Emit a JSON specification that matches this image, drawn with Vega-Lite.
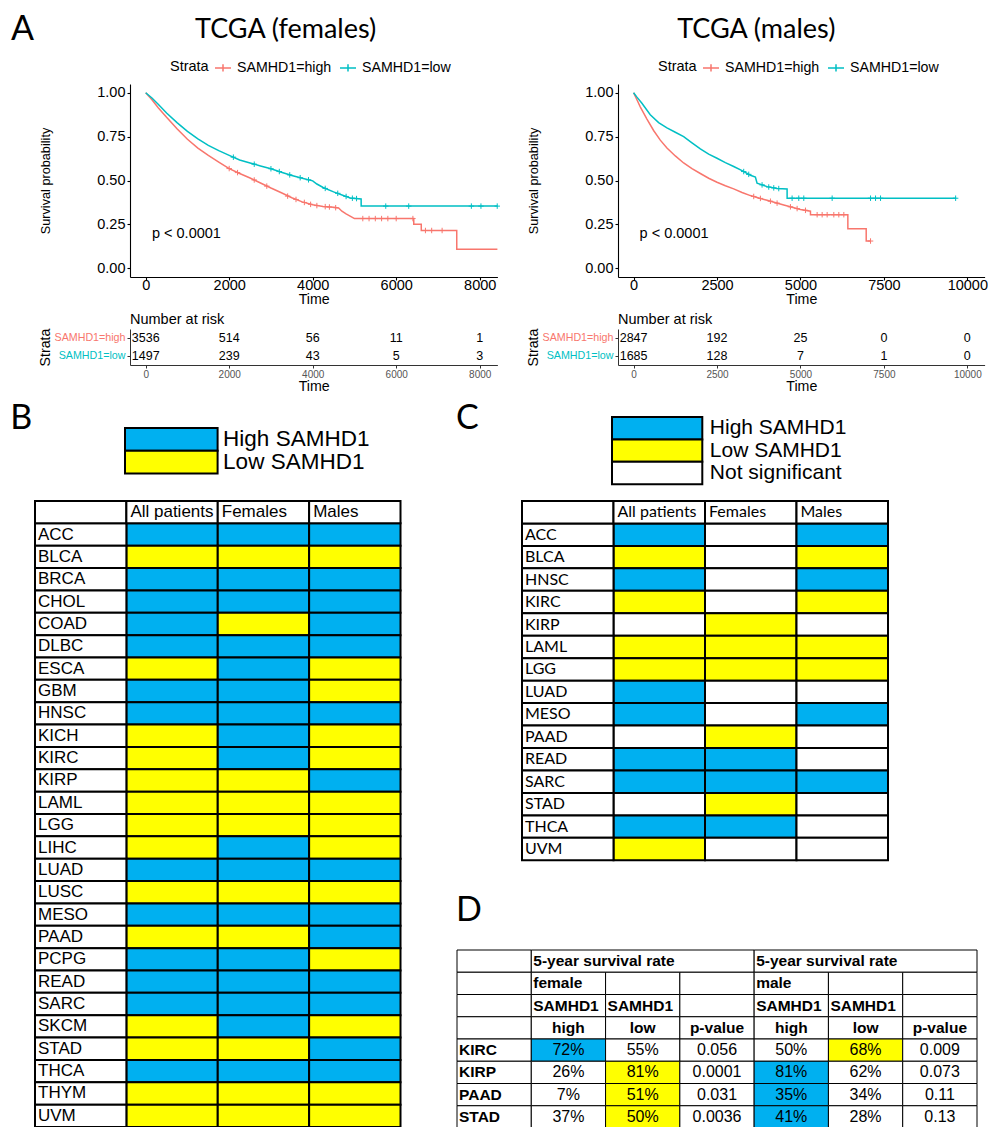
{
"$schema":"https://vega.github.io/schema/vega-lite/v6.json",
"padding":0,
"background":"white",
"bounds":"full",
"spacing":0,
"resolve":{"scale":{"color":"independent","fill":"independent"},"legend":{"color":"independent","fill":"independent"}},
"config":{
 "view":{"stroke":null},
 "font":"Liberation Sans",
 "axis":{"grid":false,"domainColor":"black","tickColor":"black","labelColor":"black","titleColor":"black","labelFont":"Liberation Sans","titleFont":"Liberation Sans","titleFontWeight":"normal"},
 "title":{"color":"black","fontWeight":"normal"}
},
"datasets":{
 "empty":[],
 "kmF":[
  {"strata":"SAMHD1=high","time":0,"surv":1},{"strata":"SAMHD1=high","time":150,"surv":0.96},{"strata":"SAMHD1=high","time":300,"surv":0.915},{"strata":"SAMHD1=high","time":500,"surv":0.86},{"strata":"SAMHD1=high","time":750,"surv":0.795},{"strata":"SAMHD1=high","time":1000,"surv":0.735},{"strata":"SAMHD1=high","time":1250,"surv":0.685},{"strata":"SAMHD1=high","time":1500,"surv":0.643},{"strata":"SAMHD1=high","time":1750,"surv":0.605},{"strata":"SAMHD1=high","time":2000,"surv":0.568},{"strata":"SAMHD1=high","time":2250,"surv":0.54},{"strata":"SAMHD1=high","time":2500,"surv":0.514},{"strata":"SAMHD1=high","time":2750,"surv":0.486},{"strata":"SAMHD1=high","time":3000,"surv":0.457},{"strata":"SAMHD1=high","time":3250,"surv":0.43},{"strata":"SAMHD1=high","time":3500,"surv":0.402},{"strata":"SAMHD1=high","time":3750,"surv":0.378},{"strata":"SAMHD1=high","time":4000,"surv":0.362},{"strata":"SAMHD1=high","time":4250,"surv":0.352},{"strata":"SAMHD1=high","time":4500,"surv":0.347},{"strata":"SAMHD1=high","time":4620,"surv":0.343},{"strata":"SAMHD1=high","time":4700,"surv":0.325},{"strata":"SAMHD1=high","time":4800,"surv":0.31},{"strata":"SAMHD1=high","time":4950,"surv":0.29},{"strata":"SAMHD1=high","time":5000,"surv":0.283},{"strata":"SAMHD1=high","time":6420,"surv":0.283},{"strata":"SAMHD1=high","time":6421,"surv":0.25},{"strata":"SAMHD1=high","time":6600,"surv":0.25},{"strata":"SAMHD1=high","time":6601,"surv":0.215},{"strata":"SAMHD1=high","time":7450,"surv":0.215},{"strata":"SAMHD1=high","time":7451,"surv":0.108},{"strata":"SAMHD1=high","time":8424,"surv":0.108},
  {"strata":"SAMHD1=low","time":0,"surv":1},{"strata":"SAMHD1=low","time":150,"surv":0.97},{"strata":"SAMHD1=low","time":300,"surv":0.935},{"strata":"SAMHD1=low","time":500,"surv":0.885},{"strata":"SAMHD1=low","time":750,"surv":0.83},{"strata":"SAMHD1=low","time":1000,"surv":0.78},{"strata":"SAMHD1=low","time":1250,"surv":0.737},{"strata":"SAMHD1=low","time":1500,"surv":0.7},{"strata":"SAMHD1=low","time":1750,"surv":0.67},{"strata":"SAMHD1=low","time":2000,"surv":0.643},{"strata":"SAMHD1=low","time":2250,"surv":0.617},{"strata":"SAMHD1=low","time":2500,"surv":0.6},{"strata":"SAMHD1=low","time":2750,"surv":0.583},{"strata":"SAMHD1=low","time":3000,"surv":0.567},{"strata":"SAMHD1=low","time":3250,"surv":0.547},{"strata":"SAMHD1=low","time":3500,"surv":0.528},{"strata":"SAMHD1=low","time":3750,"surv":0.513},{"strata":"SAMHD1=low","time":4000,"surv":0.498},{"strata":"SAMHD1=low","time":4100,"surv":0.48},{"strata":"SAMHD1=low","time":4250,"surv":0.46},{"strata":"SAMHD1=low","time":4500,"surv":0.435},{"strata":"SAMHD1=low","time":4750,"surv":0.413},{"strata":"SAMHD1=low","time":4900,"surv":0.4},{"strata":"SAMHD1=low","time":5160,"surv":0.395},{"strata":"SAMHD1=low","time":5161,"surv":0.354},{"strata":"SAMHD1=low","time":8424,"surv":0.354}
 ],
 "censF":[
  {"strata":"SAMHD1=high","time":2000,"surv":0.568},{"strata":"SAMHD1=high","time":2200,"surv":0.545},{"strata":"SAMHD1=high","time":2600,"surv":0.503},{"strata":"SAMHD1=high","time":2900,"surv":0.468},{"strata":"SAMHD1=high","time":3400,"surv":0.411},{"strata":"SAMHD1=high","time":3600,"surv":0.392},{"strata":"SAMHD1=high","time":3800,"surv":0.375},{"strata":"SAMHD1=high","time":3950,"surv":0.364},{"strata":"SAMHD1=high","time":4100,"surv":0.357},{"strata":"SAMHD1=high","time":4300,"surv":0.351},{"strata":"SAMHD1=high","time":4400,"surv":0.349},{"strata":"SAMHD1=high","time":4550,"surv":0.345},{"strata":"SAMHD1=high","time":5200,"surv":0.283},{"strata":"SAMHD1=high","time":5350,"surv":0.283},{"strata":"SAMHD1=high","time":5500,"surv":0.283},{"strata":"SAMHD1=high","time":5650,"surv":0.283},{"strata":"SAMHD1=high","time":5800,"surv":0.283},{"strata":"SAMHD1=high","time":6000,"surv":0.283},{"strata":"SAMHD1=high","time":6400,"surv":0.283},{"strata":"SAMHD1=high","time":6700,"surv":0.215},{"strata":"SAMHD1=high","time":6850,"surv":0.215},{"strata":"SAMHD1=high","time":7100,"surv":0.215},
  {"strata":"SAMHD1=low","time":2100,"surv":0.633},{"strata":"SAMHD1=low","time":2600,"surv":0.593},{"strata":"SAMHD1=low","time":3000,"surv":0.567},{"strata":"SAMHD1=low","time":3200,"surv":0.551},{"strata":"SAMHD1=low","time":3450,"surv":0.532},{"strata":"SAMHD1=low","time":3700,"surv":0.516},{"strata":"SAMHD1=low","time":3900,"surv":0.504},{"strata":"SAMHD1=low","time":4300,"surv":0.455},{"strata":"SAMHD1=low","time":4600,"surv":0.427},{"strata":"SAMHD1=low","time":4800,"surv":0.409},{"strata":"SAMHD1=low","time":4950,"surv":0.399},{"strata":"SAMHD1=low","time":5050,"surv":0.397},{"strata":"SAMHD1=low","time":5750,"surv":0.354},{"strata":"SAMHD1=low","time":6300,"surv":0.354},{"strata":"SAMHD1=low","time":7800,"surv":0.354},{"strata":"SAMHD1=low","time":8030,"surv":0.354},{"strata":"SAMHD1=low","time":8420,"surv":0.354}
 ],
 "kmM":[
  {"strata":"SAMHD1=high","time":0,"surv":1},{"strata":"SAMHD1=high","time":100,"surv":0.96},{"strata":"SAMHD1=high","time":200,"surv":0.92},{"strata":"SAMHD1=high","time":400,"surv":0.85},{"strata":"SAMHD1=high","time":600,"surv":0.785},{"strata":"SAMHD1=high","time":800,"surv":0.73},{"strata":"SAMHD1=high","time":1000,"surv":0.685},{"strata":"SAMHD1=high","time":1250,"surv":0.64},{"strata":"SAMHD1=high","time":1500,"surv":0.6},{"strata":"SAMHD1=high","time":1750,"surv":0.568},{"strata":"SAMHD1=high","time":2000,"surv":0.54},{"strata":"SAMHD1=high","time":2250,"surv":0.513},{"strata":"SAMHD1=high","time":2500,"surv":0.49},{"strata":"SAMHD1=high","time":2750,"surv":0.47},{"strata":"SAMHD1=high","time":3000,"surv":0.452},{"strata":"SAMHD1=high","time":3250,"surv":0.432},{"strata":"SAMHD1=high","time":3500,"surv":0.414},{"strata":"SAMHD1=high","time":3750,"surv":0.4},{"strata":"SAMHD1=high","time":4000,"surv":0.387},{"strata":"SAMHD1=high","time":4500,"surv":0.36},{"strata":"SAMHD1=high","time":5000,"surv":0.335},{"strata":"SAMHD1=high","time":5300,"surv":0.325},{"strata":"SAMHD1=high","time":5301,"surv":0.305},{"strata":"SAMHD1=high","time":6420,"surv":0.305},{"strata":"SAMHD1=high","time":6421,"surv":0.225},{"strata":"SAMHD1=high","time":6970,"surv":0.225},{"strata":"SAMHD1=high","time":6971,"surv":0.155},{"strata":"SAMHD1=high","time":7100,"surv":0.155},
  {"strata":"SAMHD1=low","time":0,"surv":1},{"strata":"SAMHD1=low","time":100,"surv":0.975},{"strata":"SAMHD1=low","time":250,"surv":0.94},{"strata":"SAMHD1=low","time":500,"surv":0.875},{"strata":"SAMHD1=low","time":750,"surv":0.83},{"strata":"SAMHD1=low","time":1000,"surv":0.8},{"strata":"SAMHD1=low","time":1250,"surv":0.775},{"strata":"SAMHD1=low","time":1500,"surv":0.75},{"strata":"SAMHD1=low","time":1750,"surv":0.715},{"strata":"SAMHD1=low","time":2000,"surv":0.68},{"strata":"SAMHD1=low","time":2250,"surv":0.65},{"strata":"SAMHD1=low","time":2500,"surv":0.627},{"strata":"SAMHD1=low","time":2750,"surv":0.602},{"strata":"SAMHD1=low","time":3000,"surv":0.58},{"strata":"SAMHD1=low","time":3250,"surv":0.556},{"strata":"SAMHD1=low","time":3500,"surv":0.53},{"strata":"SAMHD1=low","time":3650,"surv":0.52},{"strata":"SAMHD1=low","time":3700,"surv":0.485},{"strata":"SAMHD1=low","time":4000,"surv":0.465},{"strata":"SAMHD1=low","time":4300,"surv":0.455},{"strata":"SAMHD1=low","time":4600,"surv":0.452},{"strata":"SAMHD1=low","time":4601,"surv":0.399},{"strata":"SAMHD1=low","time":9668,"surv":0.399}
 ],
 "censM":[
  {"strata":"SAMHD1=high","time":3600,"surv":0.409},{"strata":"SAMHD1=high","time":3800,"surv":0.398},{"strata":"SAMHD1=high","time":4100,"surv":0.382},{"strata":"SAMHD1=high","time":4300,"surv":0.371},{"strata":"SAMHD1=high","time":4700,"surv":0.35},{"strata":"SAMHD1=high","time":4900,"surv":0.34},{"strata":"SAMHD1=high","time":5150,"surv":0.33},{"strata":"SAMHD1=high","time":5500,"surv":0.305},{"strata":"SAMHD1=high","time":5650,"surv":0.305},{"strata":"SAMHD1=high","time":5800,"surv":0.305},{"strata":"SAMHD1=high","time":6000,"surv":0.305},{"strata":"SAMHD1=high","time":6150,"surv":0.305},{"strata":"SAMHD1=high","time":6300,"surv":0.305},{"strata":"SAMHD1=high","time":7100,"surv":0.155},
  {"strata":"SAMHD1=low","time":3300,"surv":0.551},{"strata":"SAMHD1=low","time":3450,"surv":0.535},{"strata":"SAMHD1=low","time":3850,"surv":0.475},{"strata":"SAMHD1=low","time":4050,"surv":0.463},{"strata":"SAMHD1=low","time":4200,"surv":0.458},{"strata":"SAMHD1=low","time":4350,"surv":0.454},{"strata":"SAMHD1=low","time":4750,"surv":0.399},{"strata":"SAMHD1=low","time":4950,"surv":0.399},{"strata":"SAMHD1=low","time":5100,"surv":0.399},{"strata":"SAMHD1=low","time":5950,"surv":0.399},{"strata":"SAMHD1=low","time":7100,"surv":0.399},{"strata":"SAMHD1=low","time":7250,"surv":0.399},{"strata":"SAMHD1=low","time":7400,"surv":0.399},{"strata":"SAMHD1=low","time":9650,"surv":0.399}
 ],
 "riskF":[
  {"strata":"SAMHD1=high","time":0,"n":3536},{"strata":"SAMHD1=high","time":2000,"n":514},{"strata":"SAMHD1=high","time":4000,"n":56},{"strata":"SAMHD1=high","time":6000,"n":11},{"strata":"SAMHD1=high","time":8000,"n":1},
  {"strata":"SAMHD1=low","time":0,"n":1497},{"strata":"SAMHD1=low","time":2000,"n":239},{"strata":"SAMHD1=low","time":4000,"n":43},{"strata":"SAMHD1=low","time":6000,"n":5},{"strata":"SAMHD1=low","time":8000,"n":3}
 ],
 "riskM":[
  {"strata":"SAMHD1=high","time":0,"n":2847},{"strata":"SAMHD1=high","time":2500,"n":192},{"strata":"SAMHD1=high","time":5000,"n":25},{"strata":"SAMHD1=high","time":7500,"n":0},{"strata":"SAMHD1=high","time":10000,"n":0},
  {"strata":"SAMHD1=low","time":0,"n":1685},{"strata":"SAMHD1=low","time":2500,"n":128},{"strata":"SAMHD1=low","time":5000,"n":7},{"strata":"SAMHD1=low","time":7500,"n":1},{"strata":"SAMHD1=low","time":10000,"n":0}
 ],
 "tabB":[
  {"cancer":"ACC","All patients":"High","Females":"High","Males":"High"},
  {"cancer":"BLCA","All patients":"Low","Females":"Low","Males":"Low"},
  {"cancer":"BRCA","All patients":"High","Females":"High","Males":"High"},
  {"cancer":"CHOL","All patients":"High","Females":"High","Males":"High"},
  {"cancer":"COAD","All patients":"High","Females":"Low","Males":"High"},
  {"cancer":"DLBC","All patients":"High","Females":"High","Males":"High"},
  {"cancer":"ESCA","All patients":"Low","Females":"High","Males":"Low"},
  {"cancer":"GBM","All patients":"High","Females":"High","Males":"Low"},
  {"cancer":"HNSC","All patients":"High","Females":"High","Males":"High"},
  {"cancer":"KICH","All patients":"Low","Females":"High","Males":"Low"},
  {"cancer":"KIRC","All patients":"Low","Females":"High","Males":"Low"},
  {"cancer":"KIRP","All patients":"Low","Females":"Low","Males":"High"},
  {"cancer":"LAML","All patients":"Low","Females":"Low","Males":"Low"},
  {"cancer":"LGG","All patients":"Low","Females":"Low","Males":"Low"},
  {"cancer":"LIHC","All patients":"Low","Females":"High","Males":"Low"},
  {"cancer":"LUAD","All patients":"High","Females":"High","Males":"High"},
  {"cancer":"LUSC","All patients":"Low","Females":"Low","Males":"Low"},
  {"cancer":"MESO","All patients":"High","Females":"High","Males":"High"},
  {"cancer":"PAAD","All patients":"Low","Females":"Low","Males":"High"},
  {"cancer":"PCPG","All patients":"High","Females":"High","Males":"Low"},
  {"cancer":"READ","All patients":"High","Females":"High","Males":"High"},
  {"cancer":"SARC","All patients":"High","Females":"High","Males":"High"},
  {"cancer":"SKCM","All patients":"Low","Females":"High","Males":"Low"},
  {"cancer":"STAD","All patients":"Low","Females":"Low","Males":"High"},
  {"cancer":"THCA","All patients":"High","Females":"High","Males":"High"},
  {"cancer":"THYM","All patients":"Low","Females":"Low","Males":"Low"},
  {"cancer":"UVM","All patients":"Low","Females":"Low","Males":"Low"}
 ],
 "tabC":[
  {"cancer":"ACC","All patients":"High","Females":"NS","Males":"High"},
  {"cancer":"BLCA","All patients":"Low","Females":"NS","Males":"Low"},
  {"cancer":"HNSC","All patients":"High","Females":"NS","Males":"High"},
  {"cancer":"KIRC","All patients":"Low","Females":"NS","Males":"Low"},
  {"cancer":"KIRP","All patients":"NS","Females":"Low","Males":"NS"},
  {"cancer":"LAML","All patients":"Low","Females":"Low","Males":"Low"},
  {"cancer":"LGG","All patients":"Low","Females":"Low","Males":"Low"},
  {"cancer":"LUAD","All patients":"High","Females":"NS","Males":"NS"},
  {"cancer":"MESO","All patients":"High","Females":"NS","Males":"High"},
  {"cancer":"PAAD","All patients":"NS","Females":"Low","Males":"NS"},
  {"cancer":"READ","All patients":"High","Females":"High","Males":"NS"},
  {"cancer":"SARC","All patients":"High","Females":"High","Males":"High"},
  {"cancer":"STAD","All patients":"NS","Females":"Low","Males":"NS"},
  {"cancer":"THCA","All patients":"High","Females":"High","Males":"NS"},
  {"cancer":"UVM","All patients":"Low","Females":"NS","Males":"NS"}
 ],
 "headers":[{"col":"Cancer"},{"col":"All patients"},{"col":"Females"},{"col":"Males"}],
 "tabD":[
  {"r":"h1","c":"c0","c2":"c0","t":"","sig":"None"},{"r":"h1","c":"c1","c2":"c3","t":"5-year survival rate","sig":"None"},{"r":"h1","c":"c4","c2":"c6","t":"5-year survival rate","sig":"None"},
  {"r":"h2","c":"c0","c2":"c0","t":"","sig":"None"},{"r":"h2","c":"c1","c2":"c1","t":"female","sig":"None"},{"r":"h2","c":"c2","c2":"c2","t":"","sig":"None"},{"r":"h2","c":"c3","c2":"c3","t":"","sig":"None"},{"r":"h2","c":"c4","c2":"c4","t":"male","sig":"None"},{"r":"h2","c":"c5","c2":"c5","t":"","sig":"None"},{"r":"h2","c":"c6","c2":"c6","t":"","sig":"None"},
  {"r":"h3","c":"c0","c2":"c0","t":"","sig":"None"},{"r":"h3","c":"c1","c2":"c1","t":"SAMHD1","sig":"None"},{"r":"h3","c":"c2","c2":"c2","t":"SAMHD1","sig":"None"},{"r":"h3","c":"c3","c2":"c3","t":"","sig":"None"},{"r":"h3","c":"c4","c2":"c4","t":"SAMHD1","sig":"None"},{"r":"h3","c":"c5","c2":"c5","t":"SAMHD1","sig":"None"},{"r":"h3","c":"c6","c2":"c6","t":"","sig":"None"},
  {"r":"h4","c":"c0","c2":"c0","t":"","sig":"None"},{"r":"h4","c":"c1","c2":"c1","t":"high","sig":"None"},{"r":"h4","c":"c2","c2":"c2","t":"low","sig":"None"},{"r":"h4","c":"c3","c2":"c3","t":"p-value","sig":"None"},{"r":"h4","c":"c4","c2":"c4","t":"high","sig":"None"},{"r":"h4","c":"c5","c2":"c5","t":"low","sig":"None"},{"r":"h4","c":"c6","c2":"c6","t":"p-value","sig":"None"},
  {"r":"KIRC","c":"c0","c2":"c0","t":"KIRC","sig":"None"},{"r":"KIRC","c":"c1","c2":"c1","t":"72%","sig":"High"},{"r":"KIRC","c":"c2","c2":"c2","t":"55%","sig":"None"},{"r":"KIRC","c":"c3","c2":"c3","t":"0.056","sig":"None"},{"r":"KIRC","c":"c4","c2":"c4","t":"50%","sig":"None"},{"r":"KIRC","c":"c5","c2":"c5","t":"68%","sig":"Low"},{"r":"KIRC","c":"c6","c2":"c6","t":"0.009","sig":"None"},
  {"r":"KIRP","c":"c0","c2":"c0","t":"KIRP","sig":"None"},{"r":"KIRP","c":"c1","c2":"c1","t":"26%","sig":"None"},{"r":"KIRP","c":"c2","c2":"c2","t":"81%","sig":"Low"},{"r":"KIRP","c":"c3","c2":"c3","t":"0.0001","sig":"None"},{"r":"KIRP","c":"c4","c2":"c4","t":"81%","sig":"High"},{"r":"KIRP","c":"c5","c2":"c5","t":"62%","sig":"None"},{"r":"KIRP","c":"c6","c2":"c6","t":"0.073","sig":"None"},
  {"r":"PAAD","c":"c0","c2":"c0","t":"PAAD","sig":"None"},{"r":"PAAD","c":"c1","c2":"c1","t":"7%","sig":"None"},{"r":"PAAD","c":"c2","c2":"c2","t":"51%","sig":"Low"},{"r":"PAAD","c":"c3","c2":"c3","t":"0.031","sig":"None"},{"r":"PAAD","c":"c4","c2":"c4","t":"35%","sig":"High"},{"r":"PAAD","c":"c5","c2":"c5","t":"34%","sig":"None"},{"r":"PAAD","c":"c6","c2":"c6","t":"0.11","sig":"None"},
  {"r":"STAD","c":"c0","c2":"c0","t":"STAD","sig":"None"},{"r":"STAD","c":"c1","c2":"c1","t":"37%","sig":"None"},{"r":"STAD","c":"c2","c2":"c2","t":"50%","sig":"Low"},{"r":"STAD","c":"c3","c2":"c3","t":"0.0036","sig":"None"},{"r":"STAD","c":"c4","c2":"c4","t":"41%","sig":"High"},{"r":"STAD","c":"c5","c2":"c5","t":"28%","sig":"None"},{"r":"STAD","c":"c6","c2":"c6","t":"0.13","sig":"None"}
 ]
},
"vconcat":[
 {"columns":4,"spacing":0,"bounds":"flush",
  "resolve":{"scale":{"color":"independent","fill":"independent"},"legend":{"color":"independent","fill":"independent"}},
  "concat":[
   {"width":129.3,"height":83.5,"data":{"values":[{"p":"A"}]},"mark":{"type":"text","font":"Lato","fontSize":34,"dx":-42.15,"dy":-11.75,"baseline":"middle","align":"center","color":"black"},"encoding":{"text":{"field":"p"}}},
   {"width":367.4,"height":1,"data":{"name":"empty"},"mark":"point"},
   {"width":120,"height":1,"data":{"name":"empty"},"mark":"point"},
   {"width":366.6,"height":1,"data":{"name":"empty"},"mark":"point"},

   {"width":1,"height":1,"data":{"name":"empty"},"mark":"point"},
   {"width":367.4,"height":193,
    "title":{"text":"TCGA (females)","font":"Lato","fontSize":27,"fontWeight":"normal","anchor":"middle","frame":"group","dx":-28,"offset":15,"color":"black"},
    "layer":[
     {"data":{"name":"kmF"},"mark":{"type":"line","strokeWidth":1.5},
      "encoding":{
       "x":{"field":"time","type":"quantitative","scale":{"domain":[-376,8424],"nice":false,"zero":false},"axis":{"title":"Time","values":[0,2000,4000,6000,8000],"format":"d","labelFontSize":14.5,"titleFontSize":14.2,"tickSize":3,"labelPadding":-2,"titlePadding":1,"domainWidth":1.1,"tickWidth":1.1}},
       "y":{"field":"surv","type":"quantitative","scale":{"domain":[-0.05,1.05],"nice":false,"zero":false},"axis":{"title":"Survival probability","values":[0,0.25,0.5,0.75,1],"format":".2f","labelFontSize":14.5,"titleFontSize":12.7,"tickSize":3,"labelPadding":2,"titlePadding":44,"domainWidth":1.1,"tickWidth":1.1}},
       "color":{"field":"strata","type":"nominal","scale":{"domain":["SAMHD1=high","SAMHD1=low"],"range":["#F8766D","#00BFC4"]},"legend":{"title":"Strata","orient":"none","legendX":40,"legendY":-25.5,"direction":"horizontal","titleOrient":"left","titleFontSize":14.5,"titleFontWeight":"normal","titleColor":"black","titlePadding":5,"labelFontSize":14.2,"labelColor":"black","labelOffset":5,"columnPadding":5,"symbolType":"M-1,0H1M0,-0.45V0.45","symbolSize":256,"symbolStrokeWidth":1.5,"symbolFillColor":"transparent"}}
      }},
     {"data":{"name":"censF"},"mark":{"type":"point","shape":"M-1,0H1M0,-1V1","size":30,"strokeWidth":1,"filled":false,"opacity":1},
      "encoding":{"x":{"field":"time","type":"quantitative"},"y":{"field":"surv","type":"quantitative"},"color":{"field":"strata","type":"nominal"}}},
     {"data":{"values":[{"label":"p < 0.0001"}]},"mark":{"type":"text","align":"left","baseline":"middle","fontSize":14.5,"color":"black"},
      "encoding":{"x":{"datum":150,"type":"quantitative"},"y":{"datum":0.196,"type":"quantitative"},"text":{"field":"label"}}}
    ]},
   {"width":1,"height":1,"data":{"name":"empty"},"mark":"point"},
   {"width":366.6,"height":193,
    "title":{"text":"TCGA (males)","font":"Lato","fontSize":27,"fontWeight":"normal","anchor":"middle","frame":"group","dx":-45,"offset":15,"color":"black"},
    "layer":[
     {"data":{"name":"kmM"},"mark":{"type":"line","strokeWidth":1.5},
      "encoding":{
       "x":{"field":"time","type":"quantitative","scale":{"domain":[-467,10518],"nice":false,"zero":false},"axis":{"title":"Time","values":[0,2500,5000,7500,10000],"format":"d","labelFontSize":14.5,"titleFontSize":14.2,"tickSize":3,"labelPadding":-2,"titlePadding":1,"domainWidth":1.1,"tickWidth":1.1}},
       "y":{"field":"surv","type":"quantitative","scale":{"domain":[-0.05,1.05],"nice":false,"zero":false},"axis":{"title":"Survival probability","values":[0,0.25,0.5,0.75,1],"format":".2f","labelFontSize":14.5,"titleFontSize":12.7,"tickSize":3,"labelPadding":2,"titlePadding":44,"domainWidth":1.1,"tickWidth":1.1}},
       "color":{"field":"strata","type":"nominal","scale":{"domain":["SAMHD1=high","SAMHD1=low"],"range":["#F8766D","#00BFC4"]},"legend":{"title":"Strata","orient":"none","legendX":40,"legendY":-25.5,"direction":"horizontal","titleOrient":"left","titleFontSize":14.5,"titleFontWeight":"normal","titleColor":"black","titlePadding":5,"labelFontSize":14.2,"labelColor":"black","labelOffset":5,"columnPadding":5,"symbolType":"M-1,0H1M0,-0.45V0.45","symbolSize":256,"symbolStrokeWidth":1.5,"symbolFillColor":"transparent"}}
      }},
     {"data":{"name":"censM"},"mark":{"type":"point","shape":"M-1,0H1M0,-1V1","size":30,"strokeWidth":1,"filled":false,"opacity":1},
      "encoding":{"x":{"field":"time","type":"quantitative"},"y":{"field":"surv","type":"quantitative"},"color":{"field":"strata","type":"nominal"}}},
     {"data":{"values":[{"label":"p < 0.0001"}]},"mark":{"type":"text","align":"left","baseline":"middle","fontSize":14.5,"color":"black"},
      "encoding":{"x":{"datum":180,"type":"quantitative"},"y":{"datum":0.196,"type":"quantitative"},"text":{"field":"label"}}}
    ]},

   {"width":1,"height":51.5,"data":{"name":"empty"},"mark":"point"},
   {"width":1,"height":1,"data":{"name":"empty"},"mark":"point"},
   {"width":1,"height":1,"data":{"name":"empty"},"mark":"point"},
   {"width":1,"height":1,"data":{"name":"empty"},"mark":"point"},

   {"width":1,"height":1,"data":{"name":"empty"},"mark":"point"},
   {"width":367.4,"height":36,
    "title":{"text":"Number at risk","anchor":"start","frame":"group","fontSize":14.5,"font":"Liberation Sans","fontWeight":"normal","offset":1,"color":"black"},
    "data":{"name":"riskF"},
    "mark":{"type":"text","fontSize":12.5,"color":"black","baseline":"middle"},
    "encoding":{
     "x":{"field":"time","type":"quantitative","scale":{"domain":[-376,8424],"nice":false,"zero":false},"axis":{"title":"Time","values":[0,2000,4000,6000,8000],"format":"d","labelFontSize":10,"labelColor":"#555555","titleFontSize":14.2,"tickSize":3,"labelPadding":1,"titlePadding":0,"tickColor":"#333333","domainColor":"#333333"}},
     "y":{"field":"strata","type":"nominal","scale":{"type":"band","domain":["SAMHD1=high","SAMHD1=low"],"paddingInner":0,"paddingOuter":0},"axis":{"title":"Strata","titleFontSize":14.2,"labelFontSize":10.7,"labelColor":{"condition":{"test":"datum.value === 'SAMHD1=high'","value":"#F8766D"},"value":"#00BFC4"},"tickSize":3,"labelPadding":2,"titlePadding":2,"tickColor":"#333333","domainColor":"#333333"}},
     "text":{"field":"n","type":"quantitative","format":"d"}
    }},
   {"width":1,"height":1,"data":{"name":"empty"},"mark":"point"},
   {"width":366.6,"height":36,
    "title":{"text":"Number at risk","anchor":"start","frame":"group","fontSize":14.5,"font":"Liberation Sans","fontWeight":"normal","offset":1,"color":"black"},
    "data":{"name":"riskM"},
    "mark":{"type":"text","fontSize":12.5,"color":"black","baseline":"middle"},
    "encoding":{
     "x":{"field":"time","type":"quantitative","scale":{"domain":[-467,10518],"nice":false,"zero":false},"axis":{"title":"Time","values":[0,2500,5000,7500,10000],"format":"d","labelFontSize":10,"labelColor":"#555555","titleFontSize":14.2,"tickSize":3,"labelPadding":1,"titlePadding":0,"tickColor":"#333333","domainColor":"#333333"}},
     "y":{"field":"strata","type":"nominal","scale":{"type":"band","domain":["SAMHD1=high","SAMHD1=low"],"paddingInner":0,"paddingOuter":0},"axis":{"title":"Strata","titleFontSize":14.2,"labelFontSize":10.7,"labelColor":{"condition":{"test":"datum.value === 'SAMHD1=high'","value":"#F8766D"},"value":"#00BFC4"},"tickSize":3,"labelPadding":2,"titlePadding":2,"tickColor":"#333333","domainColor":"#333333"}},
     "text":{"field":"n","type":"quantitative","format":"d"}
    }},

   {"width":1,"height":35,"data":{"name":"empty"},"mark":"point"},
   {"width":1,"height":1,"data":{"name":"empty"},"mark":"point"},
   {"width":1,"height":1,"data":{"name":"empty"},"mark":"point"},
   {"width":1,"height":1,"data":{"name":"empty"},"mark":"point"}
  ]},

 {"hconcat":[
   {"vconcat":[
     {"columns":2,"spacing":0,"bounds":"flush",
      "resolve":{"scale":{"color":"independent","fill":"independent"},"legend":{"color":"independent","fill":"independent"}},
      "concat":[
       {"width":124.7,"height":27.7,"data":{"name":"empty"},"mark":"point"},
       {"width":1,"height":1,"data":{"name":"empty"},"mark":"point"},
       {"width":1,"height":1,"data":{"name":"empty"},"mark":"point"},
       {"width":92.6,"height":45.6,
        "title":{"text":"B","anchor":"start","frame":"group","font":"Lato","fontSize":34,"fontWeight":"normal","dx":-114.7,"offset":-9,"color":"black"},
        "data":{"values":[{"level":"High SAMHD1"},{"level":"Low SAMHD1"}]},
        "mark":{"type":"rect","stroke":"black","strokeWidth":2},
        "encoding":{
         "x":{"datum":"key","type":"nominal","scale":{"type":"band","paddingInner":0,"paddingOuter":0},"axis":null},
         "y":{"field":"level","type":"nominal","scale":{"type":"band","domain":["High SAMHD1","Low SAMHD1"],"paddingInner":0,"paddingOuter":0},"axis":{"orient":"right","title":null,"domain":false,"ticks":false,"labelFontSize":22.5,"labelPadding":5,"labelFont":"Liberation Sans","labelColor":"black"}},
         "fill":{"field":"level","type":"nominal","scale":{"domain":["High SAMHD1","Low SAMHD1"],"range":["#00B0F0","#FFFF00"]},"legend":null}
        }}
      ]},
     {"columns":2,"spacing":0,"bounds":"flush",
      "resolve":{"scale":{"color":"independent","fill":"independent"},"legend":{"color":"independent","fill":"independent"}},
      "concat":[
       {"width":34.5,"height":25.7,"data":{"name":"empty"},"mark":"point"},
       {"width":1,"height":1,"data":{"name":"empty"},"mark":"point"},
       {"width":1,"height":1,"data":{"name":"empty"},"mark":"point"},
       {"width":365.5,"height":626,
        "layer":[
         {"data":{"name":"tabB"},"transform":[{"fold":["All patients","Females","Males"],"as":["col","level"]}],
          "mark":{"type":"rect","stroke":"black","strokeWidth":2},
          "encoding":{
           "x":{"field":"col","type":"nominal","scale":{"type":"band","domain":["Cancer","All patients","Females","Males"],"paddingInner":0,"paddingOuter":0},"axis":null},
           "y":{"field":"cancer","type":"nominal","scale":{"type":"band","domain":["Header","ACC","BLCA","BRCA","CHOL","COAD","DLBC","ESCA","GBM","HNSC","KICH","KIRC","KIRP","LAML","LGG","LIHC","LUAD","LUSC","MESO","PAAD","PCPG","READ","SARC","SKCM","STAD","THCA","THYM","UVM"],"paddingInner":0,"paddingOuter":0},"axis":null},
           "fill":{"field":"level","type":"nominal","scale":{"domain":["High","Low","NS"],"range":["#00B0F0","#FFFF00","#FFFFFF"]},"legend":null}}},
         {"data":{"name":"tabB"},"mark":{"type":"rect","stroke":"black","strokeWidth":2,"fill":"white"},
          "encoding":{"x":{"datum":"Cancer","type":"nominal","axis":null},"y":{"field":"cancer","type":"nominal","axis":null}}},
         {"data":{"name":"tabB"},"mark":{"type":"text","align":"left","baseline":"middle","dx":3,"fontSize":17,"font":"Liberation Sans","color":"black"},
          "encoding":{"x":{"datum":"Cancer","type":"nominal","bandPosition":0,"axis":null},"y":{"field":"cancer","type":"nominal","axis":null},"text":{"field":"cancer"}}},
         {"data":{"name":"headers"},"mark":{"type":"rect","stroke":"black","strokeWidth":2,"fill":"white"},
          "encoding":{"x":{"field":"col","type":"nominal","axis":null},"y":{"datum":"Header","type":"nominal","axis":null}}},
         {"data":{"name":"headers"},"transform":[{"filter":"datum.col !== 'Cancer'"}],"mark":{"type":"text","align":"left","baseline":"middle","dx":4,"fontSize":17,"font":"Liberation Sans","color":"black"},
          "encoding":{"x":{"field":"col","type":"nominal","bandPosition":0,"axis":null},"y":{"datum":"Header","type":"nominal","axis":null},"text":{"field":"col"}}}
        ]}
      ]}
   ],"spacing":0,"bounds":"full",
   "resolve":{"scale":{"color":"independent","fill":"independent"},"legend":{"color":"independent","fill":"independent"}}},

   {"vconcat":[
     {"columns":2,"spacing":0,"bounds":"flush",
      "resolve":{"scale":{"color":"independent","fill":"independent"},"legend":{"color":"independent","fill":"independent"}},
      "concat":[
       {"width":210,"height":17,"data":{"name":"empty"},"mark":"point"},
       {"width":1,"height":1,"data":{"name":"empty"},"mark":"point"},
       {"width":1,"height":1,"data":{"name":"empty"},"mark":"point"},
       {"width":90.3,"height":67.2,
        "title":{"text":"C","anchor":"start","frame":"group","font":"Lato","fontSize":34,"fontWeight":"normal","dx":-156,"offset":-19.6,"color":"black"},
        "data":{"values":[{"level":"High SAMHD1"},{"level":"Low SAMHD1"},{"level":"Not significant"}]},
        "mark":{"type":"rect","stroke":"black","strokeWidth":2},
        "encoding":{
         "x":{"datum":"key","type":"nominal","scale":{"type":"band","paddingInner":0,"paddingOuter":0},"axis":null},
         "y":{"field":"level","type":"nominal","scale":{"type":"band","domain":["High SAMHD1","Low SAMHD1","Not significant"],"paddingInner":0,"paddingOuter":0},"axis":{"orient":"right","title":null,"domain":false,"ticks":false,"labelFontSize":21,"labelPadding":7,"labelFont":"Liberation Sans","labelColor":"black"}},
         "fill":{"field":"level","type":"nominal","scale":{"domain":["High SAMHD1","Low SAMHD1","Not significant"],"range":["#00B0F0","#FFFF00","#FFFFFF"]},"legend":null}
        }}
      ]},
     {"columns":2,"spacing":0,"bounds":"flush",
      "resolve":{"scale":{"color":"independent","fill":"independent"},"legend":{"color":"independent","fill":"independent"}},
      "concat":[
       {"width":119.7,"height":14.8,"data":{"name":"empty"},"mark":"point"},
       {"width":1,"height":1,"data":{"name":"empty"},"mark":"point"},
       {"width":1,"height":1,"data":{"name":"empty"},"mark":"point"},
       {"width":366,"height":359.3,
        "layer":[
         {"data":{"name":"tabC"},"transform":[{"fold":["All patients","Females","Males"],"as":["col","level"]}],
          "mark":{"type":"rect","stroke":"black","strokeWidth":2},
          "encoding":{
           "x":{"field":"col","type":"nominal","scale":{"type":"band","domain":["Cancer","All patients","Females","Males"],"paddingInner":0,"paddingOuter":0},"axis":null},
           "y":{"field":"cancer","type":"nominal","scale":{"type":"band","domain":["Header","ACC","BLCA","HNSC","KIRC","KIRP","LAML","LGG","LUAD","MESO","PAAD","READ","SARC","STAD","THCA","UVM"],"paddingInner":0,"paddingOuter":0},"axis":null},
           "fill":{"field":"level","type":"nominal","scale":{"domain":["High","Low","NS"],"range":["#00B0F0","#FFFF00","#FFFFFF"]},"legend":null}}},
         {"data":{"name":"tabC"},"mark":{"type":"rect","stroke":"black","strokeWidth":2,"fill":"white"},
          "encoding":{"x":{"datum":"Cancer","type":"nominal","axis":null},"y":{"field":"cancer","type":"nominal","axis":null}}},
         {"data":{"name":"tabC"},"mark":{"type":"text","align":"left","baseline":"middle","dx":3,"fontSize":16,"font":"Lato","color":"black"},
          "encoding":{"x":{"datum":"Cancer","type":"nominal","bandPosition":0,"axis":null},"y":{"field":"cancer","type":"nominal","axis":null},"text":{"field":"cancer"}}},
         {"data":{"name":"headers"},"mark":{"type":"rect","stroke":"black","strokeWidth":2,"fill":"white"},
          "encoding":{"x":{"field":"col","type":"nominal","axis":null},"y":{"datum":"Header","type":"nominal","axis":null}}},
         {"data":{"name":"headers"},"transform":[{"filter":"datum.col !== 'Cancer'"}],"mark":{"type":"text","align":"left","baseline":"middle","dx":4,"fontSize":16,"font":"Lato","color":"black"},
          "encoding":{"x":{"field":"col","type":"nominal","bandPosition":0,"axis":null},"y":{"datum":"Header","type":"nominal","axis":null},"text":{"field":"col"}}}
        ]}
      ]},
     {"columns":2,"spacing":0,"bounds":"flush",
      "resolve":{"scale":{"color":"independent","fill":"independent"},"legend":{"color":"independent","fill":"independent"}},
      "concat":[
       {"width":55,"height":87.7,"data":{"name":"empty"},"mark":"point"},
       {"width":1,"height":1,"data":{"name":"empty"},"mark":"point"},
       {"width":1,"height":1,"data":{"name":"empty"},"mark":"point"},
       {"width":520,"height":178,
        "title":{"text":"D","anchor":"start","frame":"group","font":"Lato","fontSize":34,"fontWeight":"normal","dx":-1,"offset":21.5,"color":"black"},
        "layer":[
         {"data":{"name":"tabD"},"mark":{"type":"rect","stroke":"black","strokeWidth":1},
          "encoding":{
           "x":{"field":"c","type":"nominal","bandPosition":0,"scale":{"type":"band","domain":["c0","c1","c2","c3","c4","c5","c6"],"paddingInner":0,"paddingOuter":0},"axis":null},
           "x2":{"field":"c2","bandPosition":1},
           "y":{"field":"r","type":"nominal","scale":{"type":"band","domain":["h1","h2","h3","h4","KIRC","KIRP","PAAD","STAD"],"paddingInner":0,"paddingOuter":0},"axis":null},
           "fill":{"field":"sig","type":"nominal","scale":{"domain":["High","Low","None"],"range":["#00B0F0","#FFFF00","#FFFFFF"]},"legend":null}}},
         {"data":{"name":"tabD"},"transform":[{"filter":"datum.t !== '' && (indexof(['h1','h2','h3'], datum.r) >= 0 || datum.c === 'c0')"}],
          "mark":{"type":"text","align":"left","baseline":"middle","dx":2,"fontSize":15.5,"fontWeight":"bold","font":"Liberation Sans","color":"black"},
          "encoding":{"x":{"field":"c","type":"nominal","bandPosition":0,"axis":null},"y":{"field":"r","type":"nominal","axis":null},"text":{"field":"t"}}},
         {"data":{"name":"tabD"},"transform":[{"filter":"datum.r === 'h4' && datum.t !== ''"}],
          "mark":{"type":"text","align":"center","baseline":"middle","fontSize":15.5,"fontWeight":"bold","font":"Liberation Sans","color":"black"},
          "encoding":{"x":{"field":"c","type":"nominal","axis":null},"y":{"field":"r","type":"nominal","axis":null},"text":{"field":"t"}}},
         {"data":{"name":"tabD"},"transform":[{"filter":"indexof(['h1','h2','h3','h4'], datum.r) < 0 && datum.c !== 'c0'"}],
          "mark":{"type":"text","align":"center","baseline":"middle","fontSize":16,"font":"Liberation Sans","color":"black"},
          "encoding":{"x":{"field":"c","type":"nominal","axis":null},"y":{"field":"r","type":"nominal","axis":null},"text":{"field":"t"}}}
        ]}
      ]}
   ],"spacing":0,"bounds":"full",
   "resolve":{"scale":{"color":"independent","fill":"independent"},"legend":{"color":"independent","fill":"independent"}}}
 ],"spacing":0,"bounds":"full",
 "resolve":{"scale":{"color":"independent","fill":"independent"},"legend":{"color":"independent","fill":"independent"}}}
]
}
